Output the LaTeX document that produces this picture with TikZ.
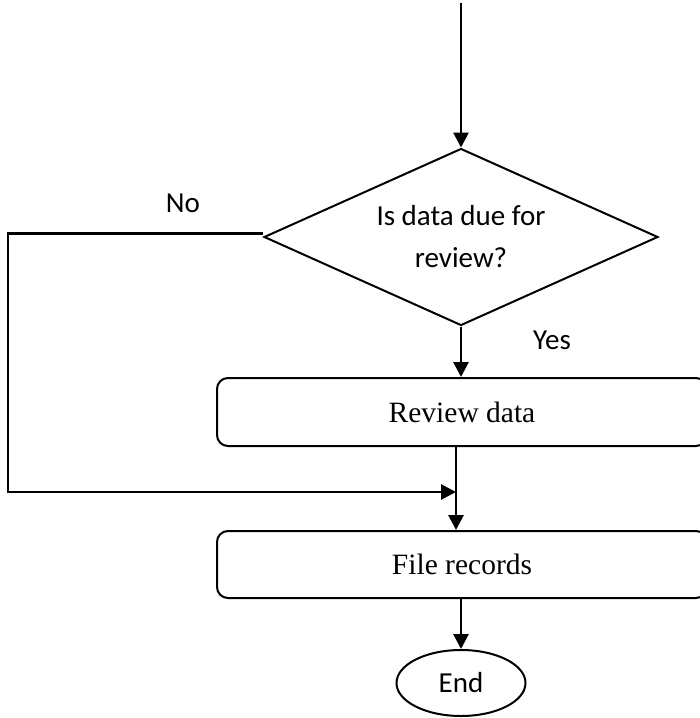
\documentclass[tikz,border=0pt]{standalone}
\usepackage{fontspec}
\setmainfont{Liberation Serif}
\newfontfamily\carlitofont{Carlito}
\usetikzlibrary{shapes.geometric,arrows.meta}
\begin{document}
\begin{tikzpicture}[x=1pt,y=-1pt,
  conn/.style={line width=2.8pt,-{Triangle[length=15pt,width=15pt]}},
  shp/.style={draw,line width=2pt},
  boxstyle/.style={shp,rounded corners=11pt,minimum width=490pt,inner sep=0pt,font=\fontsize{29.5}{34}\selectfont},
  lbl/.style={font=\carlitofont\fontsize{29}{34}\selectfont,inner sep=0pt}]
\useasboundingbox (0,0) rectangle (700,718);
\clip (0,0) rectangle (700,718);
\coordinate (top) at (461,3);
\node[shp,diamond,aspect=2.2,inner sep=0pt,minimum width=394pt,minimum height=177pt,align=center,
  font=\carlitofont\fontsize{29}{42}\selectfont] (dia) at (461,237) {Is data due for\\review?};
\node[boxstyle,minimum height=68pt] (rev) at (462,412) {Review data};
\node[boxstyle,minimum height=67pt] (fil) at (462,564.5) {File records};
\node[shp,ellipse,inner sep=0pt,minimum width=129pt,minimum height=66pt,font=\carlitofont\fontsize{29}{34}\selectfont] (end) at (461,683) {End};
\node[lbl] (no) at (183,203) {No};
\node[lbl] (yes) at (552,340) {Yes};
\coordinate (c1) at (8,233.5);
\coordinate (c2) at (8,492);
\coordinate (j) at (456,492);
\draw[conn] (top) -- (dia.north);
\draw[conn] (dia.south) -- (dia.south |- rev.north);
\draw[conn] (j |- rev.south) -- (j |- fil.north);
\draw[conn] (end.north |- fil.south) -- (end.north);
\draw[conn] (dia.west |- c1) -- (c1) -- (c2) -- (j);
\end{tikzpicture}
\end{document}
